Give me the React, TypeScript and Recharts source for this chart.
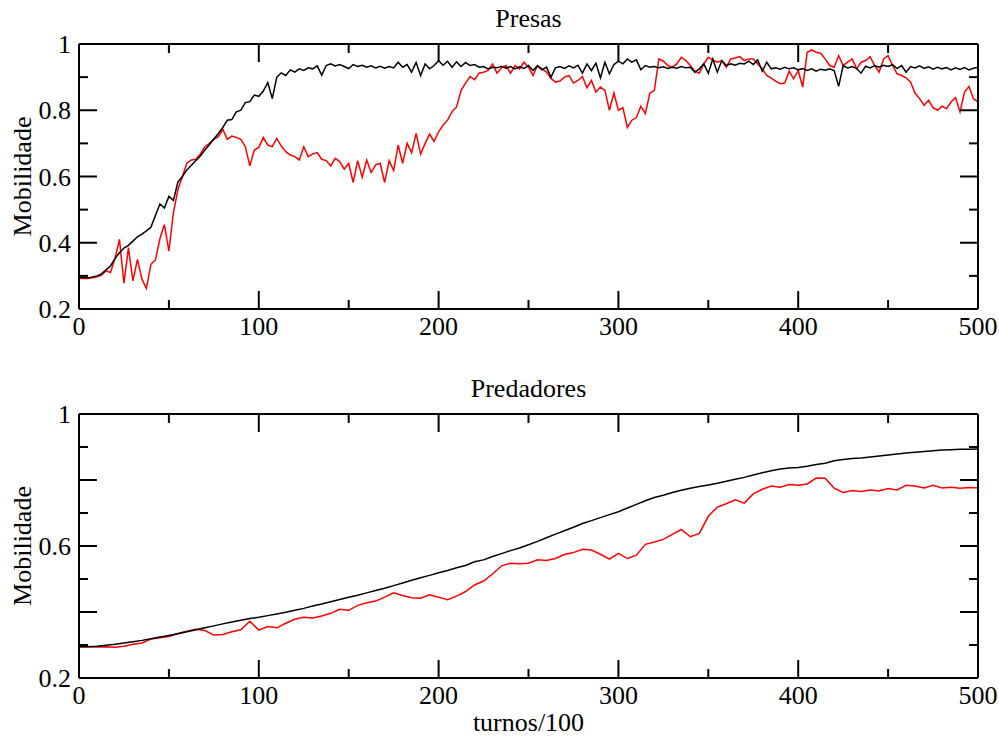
import React from 'react';
import { LineChart, Line, XAxis, YAxis } from 'recharts';

// turnos/100 -- amostrado a cada 2.5 no painel de presas, a cada 5 no de predadores
const passoPresas = 2.5;
const passoPredadores = 5;

const presasPreta = [
  0.295, 0.296, 0.294, 0.297, 0.300, 0.306, 0.318, 0.330, 0.352, 0.370,
  0.384, 0.392, 0.405, 0.418, 0.426, 0.436, 0.447, 0.482, 0.517, 0.505,
  0.540, 0.528, 0.583, 0.600, 0.620, 0.634, 0.648, 0.662, 0.680, 0.696,
  0.713, 0.730, 0.748, 0.770, 0.772, 0.795, 0.800, 0.823, 0.826, 0.846,
  0.842, 0.858, 0.884, 0.835, 0.900, 0.913, 0.905, 0.922, 0.915, 0.925,
  0.920, 0.928, 0.925, 0.934, 0.906, 0.935, 0.940, 0.934, 0.938, 0.932,
  0.926, 0.938, 0.932, 0.936, 0.930, 0.934, 0.928, 0.933, 0.927, 0.932,
  0.928, 0.945, 0.930, 0.938, 0.915, 0.944, 0.905, 0.940, 0.925, 0.935,
  0.950, 0.936, 0.948, 0.930, 0.946, 0.932, 0.944, 0.935, 0.938, 0.930,
  0.932, 0.925, 0.930, 0.928, 0.933, 0.927, 0.932, 0.925, 0.931, 0.926,
  0.935, 0.920, 0.934, 0.922, 0.930, 0.900, 0.928, 0.932, 0.926, 0.934,
  0.928, 0.936, 0.912, 0.940, 0.920, 0.942, 0.898, 0.945, 0.910, 0.938,
  0.948, 0.940, 0.955, 0.945, 0.952, 0.922, 0.935, 0.930, 0.932, 0.928,
  0.931, 0.926, 0.930, 0.927, 0.932, 0.928, 0.930, 0.915, 0.925, 0.940,
  0.912, 0.955, 0.915, 0.950, 0.935, 0.940, 0.936, 0.942, 0.940, 0.948,
  0.938, 0.952, 0.918, 0.945, 0.925, 0.928, 0.924, 0.930, 0.925, 0.928,
  0.922, 0.926, 0.920, 0.925, 0.918, 0.924, 0.921, 0.925, 0.920, 0.872,
  0.935, 0.928, 0.932, 0.926, 0.912, 0.933, 0.928, 0.935, 0.930, 0.936,
  0.932, 0.938, 0.926, 0.935, 0.915, 0.932, 0.928, 0.934, 0.926, 0.931,
  0.924, 0.930, 0.925, 0.929, 0.922, 0.928, 0.923, 0.929, 0.922, 0.927,
  0.930,
];

const presasVermelha = [
  0.293, 0.292, 0.292, 0.294, 0.297, 0.302, 0.315, 0.310, 0.352, 0.410,
  0.278, 0.385, 0.285, 0.350, 0.290, 0.262, 0.335, 0.348, 0.412, 0.455,
  0.375, 0.490, 0.560, 0.600, 0.640, 0.650, 0.652, 0.668, 0.690, 0.700,
  0.712, 0.720, 0.742, 0.712, 0.722, 0.718, 0.712, 0.690, 0.632, 0.680,
  0.688, 0.718, 0.695, 0.690, 0.715, 0.692, 0.675, 0.665, 0.660, 0.650,
  0.690, 0.660, 0.668, 0.672, 0.652, 0.648, 0.632, 0.655, 0.645, 0.622,
  0.640, 0.582, 0.648, 0.598, 0.650, 0.612, 0.635, 0.640, 0.582, 0.648,
  0.618, 0.695, 0.640, 0.700, 0.672, 0.730, 0.668, 0.700, 0.728, 0.706,
  0.735, 0.755, 0.770, 0.796, 0.810, 0.860, 0.882, 0.902, 0.892, 0.912,
  0.915, 0.920, 0.940, 0.912, 0.928, 0.935, 0.912, 0.935, 0.925, 0.945,
  0.930, 0.905, 0.935, 0.925, 0.915, 0.896, 0.885, 0.888, 0.900, 0.905,
  0.882, 0.890, 0.902, 0.868, 0.890, 0.855, 0.870, 0.860, 0.800, 0.852,
  0.800, 0.808, 0.748, 0.770, 0.778, 0.812, 0.790, 0.852, 0.860, 0.955,
  0.948, 0.935, 0.930, 0.940, 0.960, 0.950, 0.935, 0.918, 0.912, 0.940,
  0.960, 0.952, 0.945, 0.950, 0.930, 0.955, 0.958, 0.962, 0.950, 0.955,
  0.955, 0.940, 0.925, 0.905, 0.897, 0.888, 0.880, 0.882, 0.918, 0.895,
  0.920, 0.870, 0.975, 0.982, 0.975, 0.972, 0.955, 0.935, 0.930, 0.965,
  0.935, 0.945, 0.955, 0.925, 0.945, 0.950, 0.962, 0.935, 0.915, 0.955,
  0.965, 0.935, 0.910, 0.905, 0.898, 0.885, 0.852, 0.835, 0.815, 0.830,
  0.808, 0.800, 0.812, 0.805, 0.825, 0.838, 0.795, 0.855, 0.872, 0.835,
  0.825,
];

const predadoresPreta = [
  0.295, 0.295, 0.296, 0.299, 0.302, 0.306, 0.310, 0.314, 0.319, 0.324,
  0.329, 0.334, 0.340, 0.346, 0.352, 0.358, 0.364, 0.370, 0.375, 0.380,
  0.384, 0.389, 0.394, 0.399, 0.405, 0.411, 0.418, 0.424, 0.431, 0.438,
  0.445, 0.451, 0.458, 0.465, 0.472, 0.480, 0.488, 0.496, 0.504, 0.511,
  0.519, 0.526, 0.534, 0.541, 0.552, 0.558, 0.568, 0.577, 0.586, 0.594,
  0.604, 0.614, 0.625, 0.636, 0.646, 0.657, 0.668, 0.677, 0.686, 0.695,
  0.704, 0.715, 0.726, 0.737, 0.747, 0.754, 0.762, 0.769, 0.775, 0.780,
  0.785, 0.790, 0.796, 0.802, 0.808, 0.815, 0.822, 0.828, 0.833, 0.836,
  0.838, 0.842, 0.847, 0.851, 0.858, 0.862, 0.865, 0.867, 0.870, 0.873,
  0.876, 0.879, 0.882, 0.884, 0.886, 0.889, 0.891, 0.892, 0.893, 0.893,
  0.894,
];

const predadoresVermelha = [
  0.295, 0.295, 0.294, 0.295, 0.293, 0.296, 0.302, 0.306, 0.318, 0.322,
  0.326, 0.335, 0.342, 0.348, 0.344, 0.330, 0.332, 0.340, 0.346, 0.372,
  0.345, 0.356, 0.352, 0.366, 0.378, 0.384, 0.382, 0.388, 0.396, 0.408,
  0.405, 0.420, 0.428, 0.433, 0.445, 0.458, 0.450, 0.443, 0.442, 0.452,
  0.445, 0.437, 0.448, 0.462, 0.482, 0.494, 0.515, 0.540, 0.548, 0.546,
  0.548, 0.558, 0.556, 0.562, 0.574, 0.580, 0.590, 0.588, 0.575, 0.560,
  0.578, 0.562, 0.572, 0.605, 0.612, 0.620, 0.635, 0.650, 0.628, 0.638,
  0.690, 0.718, 0.728, 0.740, 0.730, 0.758, 0.772, 0.782, 0.778, 0.786,
  0.784, 0.788, 0.806, 0.805, 0.775, 0.762, 0.768, 0.765, 0.770, 0.767,
  0.774, 0.770, 0.784, 0.782, 0.776, 0.784, 0.776, 0.778, 0.775, 0.777,
  0.776,
];

const xTicks = [0, 50, 100, 150, 200, 250, 300, 350, 400, 450, 500];
const yTicks = [0.2, 0.3, 0.4, 0.5, 0.6, 0.7, 0.8, 0.9, 1];
const yLabelsPresas = [0.2, 0.4, 0.6, 0.8, 1];
const yLabelsPredadores = [0.2, 0.6, 1];

const dadosPresas = presasPreta.map((v, i) => ({ t: i * passoPresas, preta: v, vermelha: presasVermelha[i] }));
const dadosPredadores = predadoresPreta.map((v, i) => ({ t: i * passoPredadores, preta: v, vermelha: predadoresVermelha[i] }));

const FONT = '"Liberation Serif", "Times New Roman", serif';
const FS = 26;
const W = 999;
const H = 368;
const MAJOR = 18;
const MINOR = 9;

const fmt = (v: number) => (v === 1 ? '1' : v.toFixed(1));

function xTick(side: 'top' | 'bottom', labels: boolean) {
  return (p: any) => {
    const v = p.payload.value;
    const len = v % 100 === 0 ? MAJOR : MINOR;
    const dir = side === 'bottom' ? -1 : 1;
    return (
      <g>
        <line x1={p.x} x2={p.x} y1={p.y} y2={p.y + dir * len} stroke="#000" strokeWidth={2} />
        {labels && v % 100 === 0 && (
          <text x={p.x} y={p.y + 26} textAnchor="middle" fontFamily={FONT} fontSize={FS} fill="#000">{v}</text>
        )}
      </g>
    );
  };
}

function yTick(side: 'left' | 'right', labels: number[]) {
  return (p: any) => {
    const v = p.payload.value;
    const major = Math.round(v * 10) % 2 === 0;
    const len = major ? MAJOR : MINOR;
    const dir = side === 'left' ? 1 : -1;
    const show = side === 'left' && labels.some((l) => Math.abs(l - v) < 1e-6);
    return (
      <g>
        <line x1={p.x} x2={p.x + dir * len} y1={p.y} y2={p.y} stroke="#000" strokeWidth={2} />
        {show && (
          <text x={p.x - 8} y={p.y + 9} textAnchor="end" fontFamily={FONT} fontSize={FS} fill="#000">{fmt(v)}</text>
        )}
      </g>
    );
  };
}

// m = espaço em volta da área do gráfico; os eixos ocupam esse espaço
function Painel({ data, m, labels }: { data: any[]; m: { top: number; right: number; bottom: number; left: number }; labels: number[] }) {
  const eixo = { stroke: '#000', strokeWidth: 2 };
  return (
    <LineChart width={W} height={H} data={data} margin={{ top: 0, right: 0, bottom: 0, left: 0 }}>
      <XAxis xAxisId="b" dataKey="t" type="number" domain={[0, 500]} ticks={xTicks} interval={0}
        height={m.bottom} tickSize={0} tickMargin={0} axisLine={eixo} tickLine={false} tick={xTick('bottom', true)} />
      <XAxis xAxisId="t" orientation="top" dataKey="t" type="number" domain={[0, 500]} ticks={xTicks} interval={0}
        height={m.top} tickSize={0} tickMargin={0} axisLine={eixo} tickLine={false} tick={xTick('top', false)} />
      <YAxis yAxisId="l" type="number" domain={[0.2, 1]} ticks={yTicks} interval={0} allowDataOverflow
        width={m.left} tickSize={0} tickMargin={0} axisLine={eixo} tickLine={false} tick={yTick('left', labels)} />
      <YAxis yAxisId="r" orientation="right" type="number" domain={[0.2, 1]} ticks={yTicks} interval={0} allowDataOverflow
        width={m.right} tickSize={0} tickMargin={0} axisLine={eixo} tickLine={false} tick={yTick('right', labels)} />
      <Line xAxisId="b" yAxisId="l" type="linear" dataKey="vermelha" stroke="#ff0000" strokeWidth={1.5} dot={false} isAnimationActive={false} />
      <Line xAxisId="b" yAxisId="l" type="linear" dataKey="preta" stroke="#000000" strokeWidth={1.5} dot={false} isAnimationActive={false} />
      <Line xAxisId="t" yAxisId="r" type="linear" dataKey="preta" stroke="none" dot={false} isAnimationActive={false} />
    </LineChart>
  );
}

export default function App() {
  const texto = { fontFamily: FONT, fontSize: FS, fill: '#000' };
  return (
    <div style={{ position: 'absolute', left: 0, top: 0, width: W, height: 736, background: '#fff' }}>
      <div style={{ position: 'absolute', left: 0, top: 0 }}>
        <Painel data={dadosPresas} m={{ top: 44, right: 21, bottom: 59, left: 79 }} labels={yLabelsPresas} />
      </div>
      <div style={{ position: 'absolute', left: 0, top: 368 }}>
        <Painel data={dadosPredadores} m={{ top: 46, right: 21, bottom: 58, left: 79 }} labels={yLabelsPredadores} />
      </div>
      <svg width={W} height={736} style={{ position: 'absolute', left: 0, top: 0, pointerEvents: 'none' }}>
        <text x={528.5} y={27} textAnchor="middle" {...texto}>Presas</text>
        <text x={528.5} y={397} textAnchor="middle" {...texto}>Predadores</text>
        <text x={528.5} y={731} textAnchor="middle" {...texto}>turnos/100</text>
        <text transform="translate(31,176.5) rotate(-90)" textAnchor="middle" {...texto}>Mobilidade</text>
        <text transform="translate(31,546) rotate(-90)" textAnchor="middle" {...texto}>Mobilidade</text>
      </svg>
    </div>
  );
}
